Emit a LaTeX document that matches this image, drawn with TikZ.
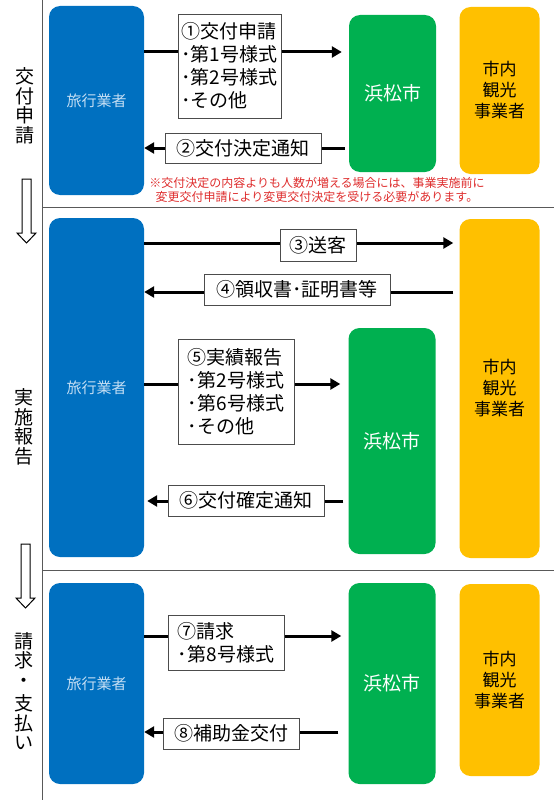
\documentclass[tikz,border=0pt]{standalone}
\usepackage{fontspec}
\setmainfont{Noto Sans CJK JP}
\usetikzlibrary{arrows.meta}
\definecolor{agentblue}{RGB}{0,112,192}
\definecolor{citygreen}{RGB}{0,176,80}
\definecolor{touryellow}{RGB}{255,192,0}
\definecolor{notered}{RGB}{222,45,45}
\definecolor{paleblue}{RGB}{196,222,244}

\begin{document}
\begin{tikzpicture}[x=1pt,y=-1pt,
  party/.style={rounded corners=11pt,inner sep=0pt,align=center},
  agent/.style={party,fill=agentblue,text=paleblue,font=\fontsize{15}{18}\selectfont,minimum width=95pt},
  city/.style={party,fill=citygreen,text=white,font=\fontsize{19}{22}\selectfont,minimum width=87pt},
  tour/.style={party,fill=touryellow,text=black,font=\fontsize{17}{21}\selectfont,minimum width=80pt},
  doc/.style={draw=black!70,line width=0.8pt,fill=white,font=\fontsize{19}{23}\selectfont,inner xsep=3pt,inner ysep=2pt,align=left},
  flow/.style={line width=3pt,-{Triangle[length=10pt,width=11pt]}},
  phase/.style={font=\fontsize{19}{19.5}\selectfont,align=center},
  rule/.style={draw=black!65,line width=1pt}]
\useasboundingbox (0,0) rectangle (554,800);

% frame
\draw[rule] (42,0) -- (42,800);
\draw[rule] (42,207.5) -- (554,207.5);
\draw[rule] (42,570.5) -- (554,570.5);

% phase names
\node[phase] (ph1) at (25,106) {交\\付\\申\\請};
\node[phase] (ph2) at (24,427) {実\\施\\報\\告};
\node[phase] (ph3) at (24,691) {請\\求\\・\\[4pt]支\\払\\い};
\draw[line width=1pt] (22,179) -- (31,179) -- (31,233) -- (36,233) -- (26.5,243) -- (17,233) -- (22,233) -- cycle;
\draw[line width=1pt] (21,544) -- (30,544) -- (30,598) -- (35,598) -- (25.5,608) -- (16,598) -- (21,598) -- cycle;

% section 1
\node[agent,minimum height=189pt] (agent1) at (96.5,100.5) {旅行業者};
\node[city,minimum height=157pt] (city1) at (392.5,93.5) {浜松市};
\node[tour,minimum height=167pt] (tour1) at (499.5,90.5) {市内\\観光\\事業者};

% section 2
\node[agent,minimum height=339pt] (agent2) at (96.5,387.5) {旅行業者};
\node[city,minimum height=226pt] (city2) at (392,441) {浜松市};
\node[tour,minimum height=339pt] (tour2) at (499.5,388.5) {市内\\観光\\事業者};

% section 3
\node[agent,minimum height=201pt] (agent3) at (96.5,683.5) {旅行業者};
\node[city,minimum height=201pt] (city3) at (392,683.5) {浜松市};
\node[tour,minimum height=192pt] (tour3) at (499.5,680) {市内\\観光\\事業者};

% arrow rows
\coordinate (r1) at (0,52);
\coordinate (r2) at (0,148);
\coordinate (r3) at (0,243);
\coordinate (r4) at (0,292);
\coordinate (r5) at (0,384);
\coordinate (r6) at (0,501);
\coordinate (r7) at (0,636);
\coordinate (r8) at (0,732);

\draw[flow,shorten >=7pt] (agent1.east |- r1) -- (city1.west |- r1);
\draw[flow,shorten <=4pt] (city1.west |- r2) -- (agent1.east |- r2);
\draw[flow,shorten >=6pt] (agent2.east |- r3) -- (tour2.west |- r3);
\draw[flow,shorten <=6pt] (tour2.west |- r4) -- (agent2.east |- r4);
\draw[flow,shorten >=8pt] (agent2.east |- r5) -- (city2.west |- r5);
\draw[flow,shorten <=5pt,shorten >=3pt] (city2.west |- r6) -- (agent2.east |- r6);
\draw[flow,shorten >=7pt] (agent3.east |- r7) -- (city3.west |- r7);
\draw[flow,shorten <=10pt] (city3.west |- r8) -- (agent3.east |- r8);

% labels on the arrows
\node[doc,minimum width=103pt,minimum height=104pt] (req) at (229.5,66) {①交付申請\\･第1号様式\\･第2号様式\\･その他};
\node[doc,minimum width=156pt,minimum height=30pt] (decide) at (243,148) {②交付決定通知};
\node[doc,minimum width=76pt,minimum height=32pt] (send) at (318,245) {③送客};
\node[doc,minimum width=186pt,minimum height=31pt] (receipt) at (297,289.5) {④領収書･証明書等};
\node[doc,minimum width=116pt,minimum height=105pt] (report) at (236,391.5) {⑤実績報告\\･第2号様式\\･第6号様式\\･その他};
\node[doc,minimum width=156pt,minimum height=31pt] (confirm) at (246,500.5) {⑥交付確定通知};
\node[doc,minimum width=116pt,minimum height=55pt] (claim) at (226,642.5) {⑦請求\\･第8号様式};
\node[doc,minimum width=136pt,minimum height=31pt] (grant) at (231,733.5) {⑧補助金交付};

% note
\node[text=notered,font=\fontsize{12}{14}\selectfont,align=center] (note) at (317,190) {※交付決定の内容よりも人数が増える場合には、事業実施前に\\変更交付申請により変更交付決定を受ける必要があります。};
\end{tikzpicture}
\end{document}
